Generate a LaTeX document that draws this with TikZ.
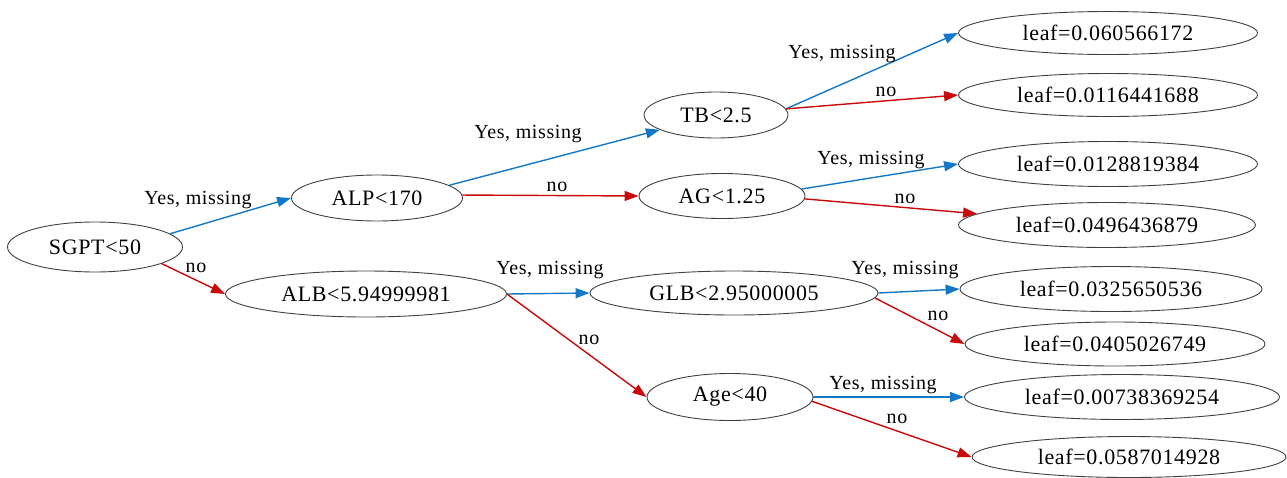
\documentclass[tikz,border=0pt]{standalone}
\usepackage{fontspec}
\setmainfont{Liberation Serif}[LetterSpace=3]
\usetikzlibrary{shapes.geometric,arrows.meta}
\definecolor{yesblue}{RGB}{20,120,200}
\definecolor{nored}{RGB}{200,10,10}
\tikzset{
  ell/.style={ellipse,draw=black!75,line width=0.9pt,inner sep=0pt,font=\fontsize{22}{25}\selectfont},
  elabel/.style={inner sep=0pt,font=\fontsize{20}{23}\selectfont},
  yesedge/.style={draw=yesblue,line width=1.4pt,-{Triangle[length=14pt,width=10pt]}},
  noedge/.style={draw=nored,line width=1.4pt,-{Triangle[length=14pt,width=10pt]}},
}
\begin{document}
\begin{tikzpicture}[x=1pt,y=-1pt]
\useasboundingbox (0,0) rectangle (1287,477);
% internal nodes
\node[ell,minimum width=175pt,minimum height=50pt] (sgpt) at (95,247) {SGPT<50};
\node[ell,minimum width=171pt,minimum height=46pt] (alp) at (377,198) {ALP<170};
\node[ell,minimum width=281pt,minimum height=46pt] (alb) at (366,294) {ALB<5.94999981};
\node[ell,minimum width=144pt,minimum height=46pt] (tb) at (716,115) {TB<2.5};
\node[ell,minimum width=166pt,minimum height=45pt] (ag) at (722,196) {AG<1.25};
\node[ell,minimum width=288pt,minimum height=44pt] (glb) at (734,293) {GLB<2.95000005};
\node[ell,minimum width=166pt,minimum height=47pt] (age) at (730,397) {Age<40};
% leaves
\node[ell,minimum width=299pt,minimum height=43pt] (l1) at (1108,33) {leaf=0.060566172};
\node[ell,minimum width=299pt,minimum height=43pt] (l2) at (1108,95) {leaf=0.0116441688};
\node[ell,minimum width=299pt,minimum height=45pt] (l3) at (1108,164) {leaf=0.0128819384};
\node[ell,minimum width=297pt,minimum height=45pt] (l4) at (1107,225) {leaf=0.0496436879};
\node[ell,minimum width=302pt,minimum height=45pt] (l5) at (1111,289) {leaf=0.0325650536};
\node[ell,minimum width=300pt,minimum height=44pt] (l6) at (1115,344) {leaf=0.0405026749};
\node[ell,minimum width=315pt,minimum height=45pt] (l7) at (1122,397) {leaf=0.00738369254};
\node[ell,minimum width=314pt,minimum height=41pt] (l8) at (1129,457) {leaf=0.0587014928};
% edges
\draw[yesedge] (sgpt.10) -- (alp.west);
\draw[noedge] (sgpt.-14) -- (alb.west);
\draw[yesedge] (alp.10) -- (tb);
\draw[noedge] (alp.2) -- (ag.west);
\draw[yesedge] (tb.5) -- (l1.west);
\draw[noedge] (tb.5) -- (l2.west);
\draw[yesedge] (ag.5) -- (l3.west);
\draw[noedge] (ag.-2) -- (l4);
\draw[yesedge] (alb.east) -- (glb.west);
\draw[noedge] (alb.east) -- (age.west);
\draw[yesedge] (glb.east) -- (l5.west);
\draw[noedge] (glb.-2) -- (l6.west);
\draw[yesedge] (age.east) -- (l7.west);
\draw[noedge] (age.-3) -- (l8.west);
% edge labels
\node[elabel] (e1) at (198,200) {Yes, missing};
\node[elabel] (e2) at (196,268) {no};
\node[elabel] (e3) at (528,134) {Yes, missing};
\node[elabel] (e4) at (557,187) {no};
\node[elabel] (e5) at (842,54) {Yes, missing};
\node[elabel] (e6) at (886,92) {no};
\node[elabel] (e7) at (871,160) {Yes, missing};
\node[elabel] (e8) at (905,199) {no};
\node[elabel] (e9) at (550,270) {Yes, missing};
\node[elabel] (e10) at (589,340) {no};
\node[elabel] (e11) at (905,270) {Yes, missing};
\node[elabel] (e12) at (938,316) {no};
\node[elabel] (e13) at (883,385) {Yes, missing};
\node[elabel] (e14) at (897,419) {no};
\end{tikzpicture}
\end{document}
